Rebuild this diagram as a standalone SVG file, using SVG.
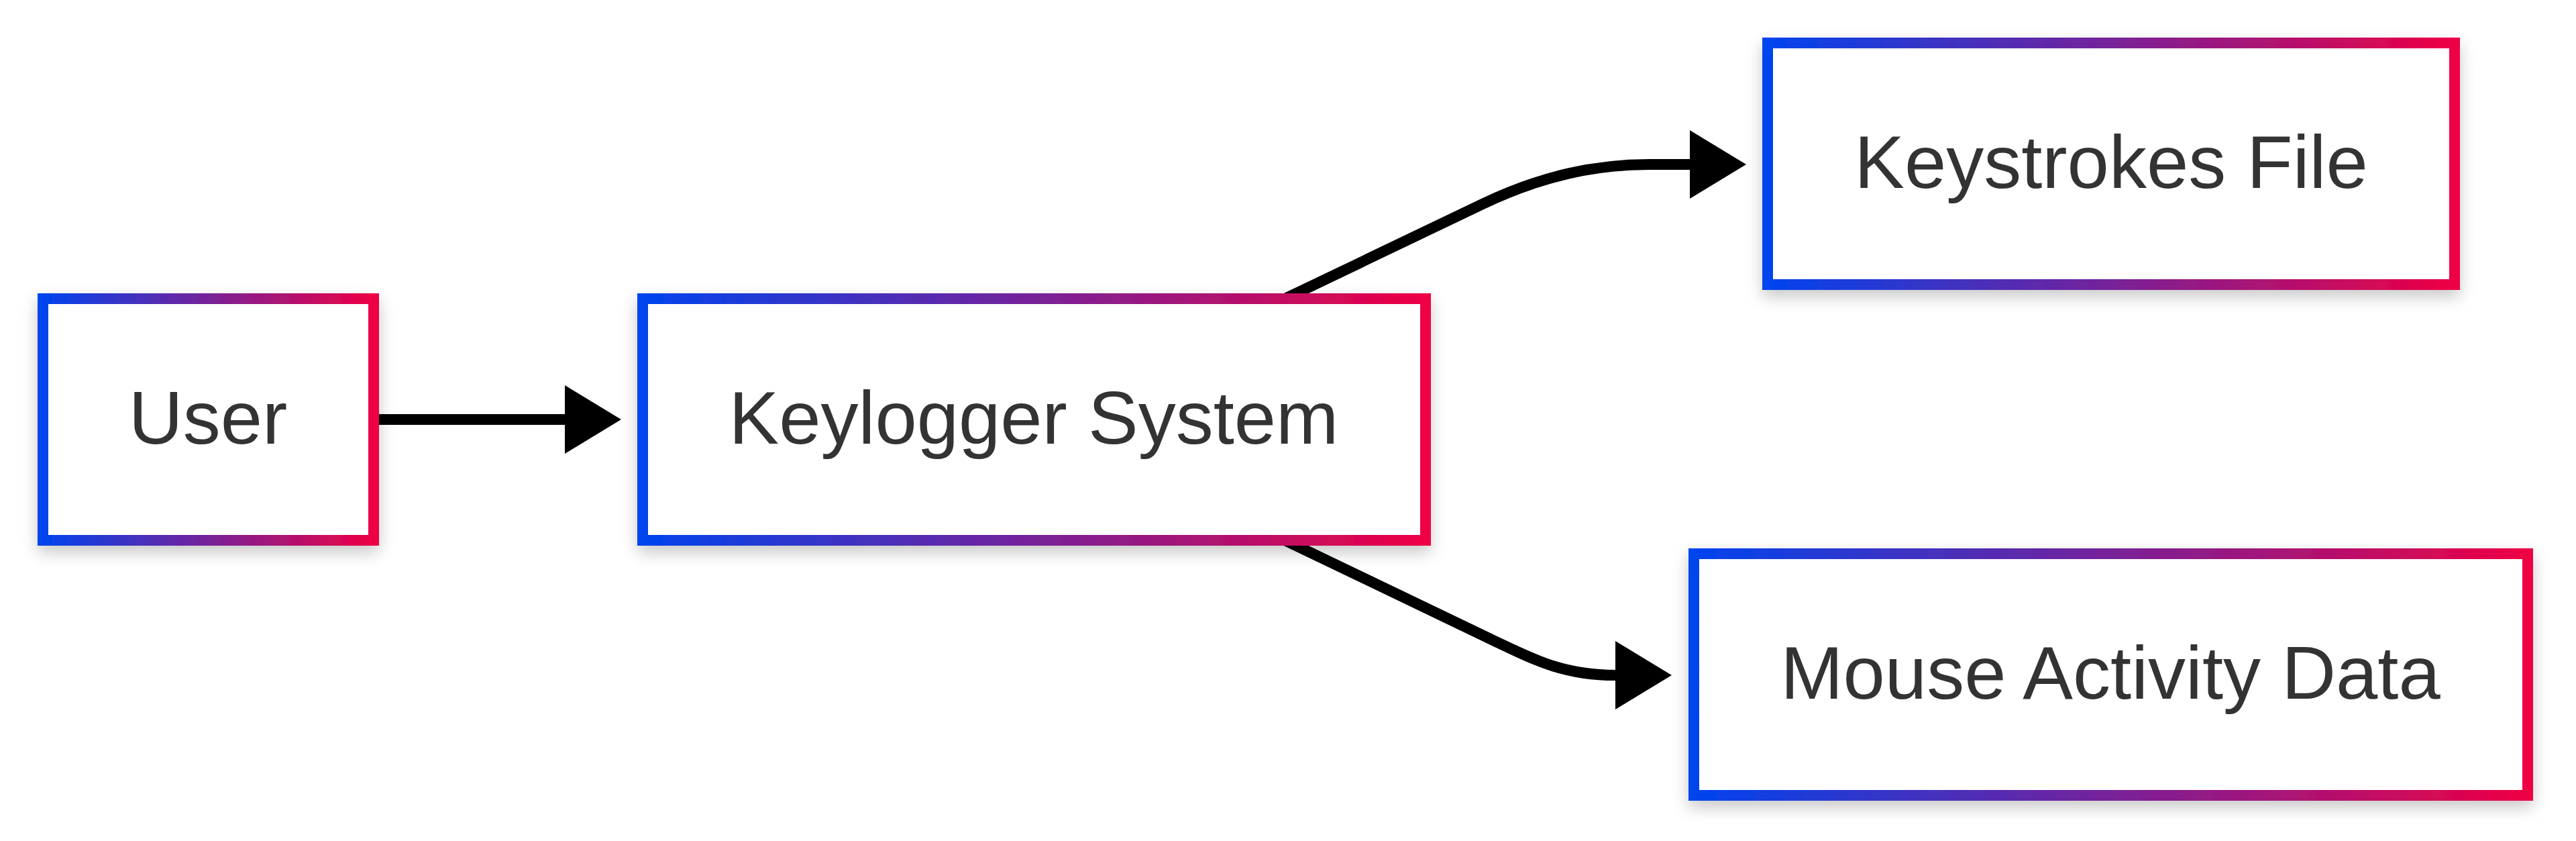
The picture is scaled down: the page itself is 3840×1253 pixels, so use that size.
<svg xmlns="http://www.w3.org/2000/svg" width="3840" height="1253" viewBox="0 0 3840 1253">
<style>
.box{fill:#ffffff;stroke:url(#grad);stroke-width:16;filter:url(#shadow)}
.lbl{font-family:"Liberation Sans",Arial,sans-serif;font-size:112px;fill:#333333;text-anchor:middle}
.edge{fill:none;stroke:#000000;stroke-width:16;marker-end:url(#arrow)}
</style>
<defs>
<linearGradient id="grad" x1="0" y1="0" x2="1" y2="0">
<stop offset="0" stop-color="#0044ee"/>
<stop offset="1" stop-color="#ee0044"/>
</linearGradient>
<filter id="shadow" x="-20%" y="-30%" width="140%" height="170%">
<feGaussianBlur in="SourceAlpha" stdDeviation="12"/>
<feOffset dx="0" dy="10" result="b"/>
<feComponentTransfer><feFuncA type="linear" slope="0.22"/></feComponentTransfer>
<feMerge><feMergeNode/><feMergeNode in="SourceGraphic"/></feMerge>
</filter>
<marker id="arrow" markerUnits="userSpaceOnUse" viewBox="0 0 84 102" markerWidth="84" markerHeight="102" refX="0" refY="51" orient="auto">
<path d="M0,0 L84,51 L0,102 Z" fill="#000000"/>
</marker>
</defs>
<rect width="3840" height="1253" fill="#ffffff"/>
<g id="connectors">
<path class="edge" d="M565,625 L842,625"/>
<path class="edge" d="M1880,462 L2210,304 C2300,261 2380,245 2459,245 L2519,245"/>
<path class="edge" d="M1880,788 L2230,956 C2285,982 2330,1006 2408,1006"/>
</g>
<g id="node-user">
<rect class="box" x="64" y="445" width="493" height="360"/>
<text class="lbl" x="310" y="661">User</text>
</g>
<g id="node-keylogger">
<rect class="box" x="958" y="445" width="1167" height="360"/>
<text class="lbl" x="1541" y="661">Keylogger System</text>
</g>
<g id="node-keystrokes">
<rect class="box" x="2635" y="64" width="1024" height="360"/>
<text class="lbl" x="3147" y="280">Keystrokes File</text>
</g>
<g id="node-mouse">
<rect class="box" x="2525" y="825" width="1243" height="360"/>
<text class="lbl" x="3146" y="1041">Mouse Activity Data</text>
</g>
</svg>
